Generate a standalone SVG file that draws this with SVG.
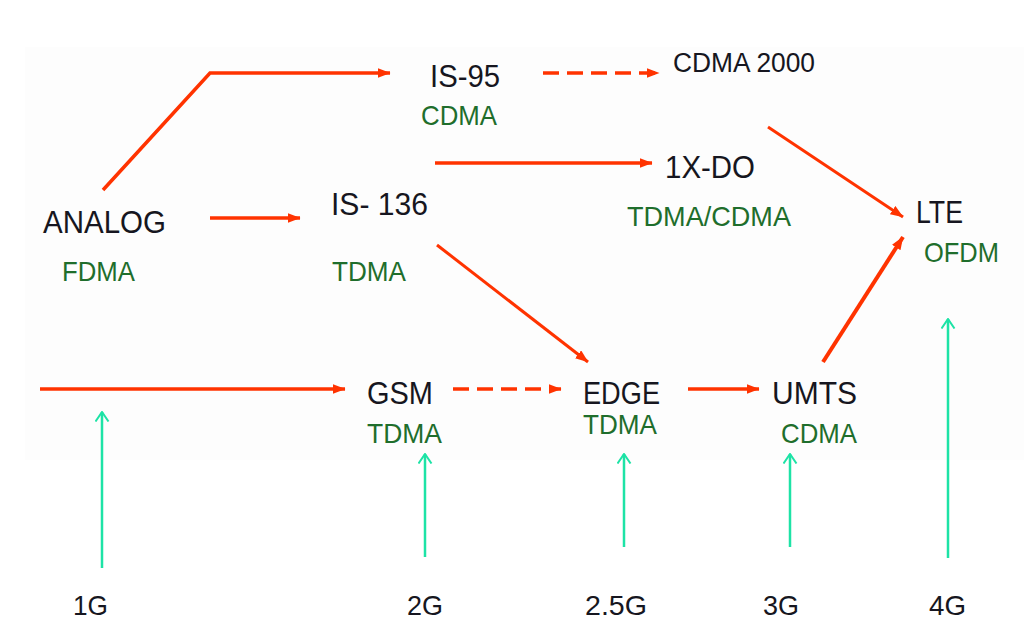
<svg xmlns="http://www.w3.org/2000/svg" width="1024" height="642" viewBox="0 0 1024 642">
<style>
.t{font-family:"Liberation Sans",Arial,sans-serif;fill:#161620}
.m{font-size:32px}
.s{font-size:27px}
.g{font-family:"Liberation Sans",Arial,sans-serif;font-size:28px;fill:#1f6e2c}
.r{stroke:#ff3300;stroke-width:3.5;fill:none}
.d{stroke-dasharray:16 8}
.a{stroke:#1de3a6;stroke-width:2.5;fill:none}
</style>
<defs>
<marker id="ra" markerUnits="userSpaceOnUse" markerWidth="13" markerHeight="10" viewBox="0 0 13 10" refX="12.5" refY="5" orient="auto">
<path d="M0,0 L13,5 L0,10 z" fill="#ff3300"/>
</marker>
<marker id="ga" markerUnits="userSpaceOnUse" markerWidth="11" markerHeight="15" viewBox="0 0 11 15" refX="10" refY="7.5" orient="auto">
<path d="M0.5,1 L10,7.5 L0.5,14" fill="none" stroke="#1de3a6" stroke-width="2"/>
</marker>
</defs>
<rect width="1024" height="642" fill="#ffffff"/>
<rect x="25" y="47" width="999" height="413" fill="#fdfdfd"/>
<g id="connectors">
<path class="r" d="M103,190 L210,73 L390,73" marker-end="url(#ra)"/>
<path class="r d" d="M543,73 L659,73" marker-end="url(#ra)"/>
<path class="r" d="M210,218 L300,218" marker-end="url(#ra)"/>
<path class="r" d="M435,163 L652,163" marker-end="url(#ra)"/>
<path class="r" style="stroke-width:3" d="M768,127 L903,217" marker-end="url(#ra)"/>
<path class="r" style="stroke-width:3" d="M437,245 L588,362" marker-end="url(#ra)"/>
<path class="r" d="M40,389 L345,389" marker-end="url(#ra)"/>
<path class="r d" d="M453,389 L561,389" marker-end="url(#ra)"/>
<path class="r" d="M688,389 L759,389" marker-end="url(#ra)"/>
<path class="r" style="stroke-width:4" d="M823,362 L903,237" marker-end="url(#ra)"/>
<path class="a" d="M102,568 L102,412" marker-end="url(#ga)"/>
<path class="a" d="M425,557 L425,454" marker-end="url(#ga)"/>
<path class="a" d="M624,547 L624,454" marker-end="url(#ga)"/>
<path class="a" d="M790,547 L790,454" marker-end="url(#ga)"/>
<path class="a" d="M948,558 L948,319" marker-end="url(#ga)"/>
</g>
<g id="analog">
<text class="t m" x="43" y="233" textLength="123" lengthAdjust="spacingAndGlyphs">ANALOG</text>
<text class="g" x="62" y="281" textLength="73" lengthAdjust="spacingAndGlyphs">FDMA</text>
</g>
<g id="is95">
<text class="t m" x="430" y="87" textLength="70" lengthAdjust="spacingAndGlyphs">IS-95</text>
<text class="g" x="421" y="125" textLength="76" lengthAdjust="spacingAndGlyphs">CDMA</text>
</g>
<g id="cdma2000">
<text class="t s" x="673" y="72" textLength="142" lengthAdjust="spacingAndGlyphs">CDMA 2000</text>
</g>
<g id="is136">
<text class="t m" x="331" y="215" textLength="97" lengthAdjust="spacingAndGlyphs">IS- 136</text>
<text class="g" x="332" y="281" textLength="74" lengthAdjust="spacingAndGlyphs">TDMA</text>
</g>
<g id="1xdo">
<text class="t m" x="665" y="178" textLength="90" lengthAdjust="spacingAndGlyphs">1X-DO</text>
<text class="g" x="627" y="226" textLength="164" lengthAdjust="spacingAndGlyphs">TDMA/CDMA</text>
</g>
<g id="lte">
<text class="t m" x="916" y="223" textLength="47" lengthAdjust="spacingAndGlyphs">LTE</text>
<text class="g" x="924" y="262" textLength="75" lengthAdjust="spacingAndGlyphs">OFDM</text>
</g>
<g id="gsm">
<text class="t m" x="367" y="404" textLength="66" lengthAdjust="spacingAndGlyphs">GSM</text>
<text class="g" x="367" y="443" textLength="75" lengthAdjust="spacingAndGlyphs">TDMA</text>
</g>
<g id="edge">
<text class="t m" x="583" y="404" textLength="77" lengthAdjust="spacingAndGlyphs">EDGE</text>
<text class="g" x="583" y="434" textLength="74" lengthAdjust="spacingAndGlyphs">TDMA</text>
</g>
<g id="umts">
<text class="t m" x="772" y="404" textLength="85" lengthAdjust="spacingAndGlyphs">UMTS</text>
<text class="g" x="781" y="443" textLength="76" lengthAdjust="spacingAndGlyphs">CDMA</text>
</g>
<g id="g1"><text class="t" style="font-size:28px" x="73" y="615" textLength="35" lengthAdjust="spacingAndGlyphs">1G</text></g>
<g id="g2"><text class="t" style="font-size:28px" x="407" y="615" textLength="36" lengthAdjust="spacingAndGlyphs">2G</text></g>
<g id="g25"><text class="t" style="font-size:28px" x="585" y="615" textLength="62" lengthAdjust="spacingAndGlyphs">2.5G</text></g>
<g id="g3"><text class="t" style="font-size:28px" x="763" y="615" textLength="36" lengthAdjust="spacingAndGlyphs">3G</text></g>
<g id="g4"><text class="t" style="font-size:28px" x="929" y="615" textLength="37" lengthAdjust="spacingAndGlyphs">4G</text></g>
</svg>
